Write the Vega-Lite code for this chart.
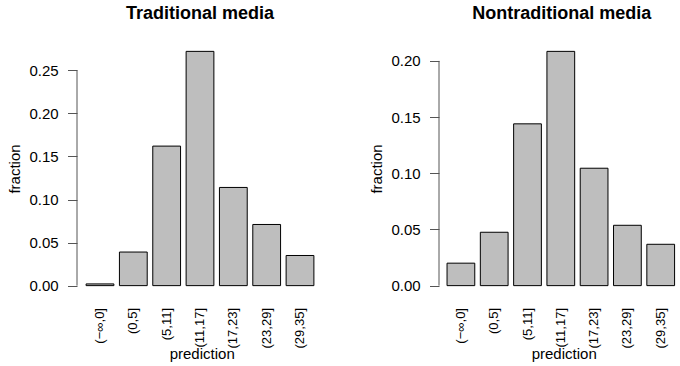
{
  "$schema": "https://vega.github.io/schema/vega-lite/v6.json",
  "autosize": {"type": "pad"},
  "padding": {"left": 7, "top": 4, "right": 0, "bottom": 0},
  "bounds": "flush",
  "spacing": 116,
  "background": "white",
  "config": {
    "font": "Liberation Sans",
    "view": {"stroke": null},
    "title": {"fontSize": 18, "fontWeight": "bold", "color": "#000", "baseline": "alphabetic", "offset": 19.2, "anchor": "middle"},
    "axis": {"labelColor": "#000", "titleColor": "#000", "grid": false, "labelFont": "Liberation Sans", "titleFont": "Liberation Sans", "titleFontWeight": "normal", "titleFontSize": 15}
  },
  "datasets": {
    "trad": [
      {"prediction": "(−∞,0]", "fraction": 0.002},
      {"prediction": "(0,5]", "fraction": 0.039},
      {"prediction": "(5,11]", "fraction": 0.162},
      {"prediction": "(11,17]", "fraction": 0.272},
      {"prediction": "(17,23]", "fraction": 0.114},
      {"prediction": "(23,29]", "fraction": 0.071},
      {"prediction": "(29,35]", "fraction": 0.035}
    ],
    "nontrad": [
      {"prediction": "(−∞,0]", "fraction": 0.020},
      {"prediction": "(0,5]", "fraction": 0.0475},
      {"prediction": "(5,11]", "fraction": 0.144},
      {"prediction": "(11,17]", "fraction": 0.2085},
      {"prediction": "(17,23]", "fraction": 0.1045},
      {"prediction": "(23,29]", "fraction": 0.0537},
      {"prediction": "(29,35]", "fraction": 0.0368}
    ]
  },
  "hconcat": [
    {
      "title": {"text": "Traditional media"},
      "width": 246,
      "height": 253,
      "layer": [
        {
          "data": {"name": "trad"},
          "mark": {"type": "bar", "fill": "#bebebe", "stroke": "#000", "strokeWidth": 1, "opacity": 1},
          "encoding": {
            "x": {
              "field": "prediction", "type": "nominal", "sort": null,
              "scale": {"paddingInner": 0.1667, "paddingOuter": 0.273},
              "axis": {"ticks": false, "domain": false, "labelAngle": -90, "labelFontSize": 13, "labelPadding": 12.5, "labelOverlap": false, "title": "prediction", "titleY": 63.3, "titleX": 124.7, "titleBaseline": "alphabetic"}
            },
            "y": {
              "field": "fraction", "type": "quantitative",
              "scale": {"domain": [-0.01088, 0.28288], "nice": false, "zero": false},
              "axis": {"values": [0, 0.05, 0.1, 0.15, 0.2, 0.25], "format": ".2f", "domain": false, "tickSize": 9.5, "tickColor": "#555", "labelPadding": 9.4, "labelFontSize": 15, "labelFlush": false, "title": "fraction", "titleX": -58, "titleBaseline": "alphabetic"}
            },
            "y2": {"datum": 0}
          }
        },
        {
          "data": {"values": [{"lo": 0, "hi": 0.25}]},
          "mark": {"type": "rule", "color": "#555", "strokeWidth": 1},
          "encoding": {
            "x": {"value": 0},
            "y": {"field": "lo", "type": "quantitative"},
            "y2": {"field": "hi"}
          }
        }
      ]
    },
    {
      "title": {"text": "Nontraditional media", "dx": 2.3},
      "width": 241,
      "height": 253,
      "layer": [
        {
          "data": {"name": "nontrad"},
          "mark": {"type": "bar", "fill": "#bebebe", "stroke": "#000", "strokeWidth": 1, "opacity": 1},
          "encoding": {
            "x": {
              "field": "prediction", "type": "nominal", "sort": null,
              "scale": {"paddingInner": 0.1667, "paddingOuter": 0.202, "align": 0.597},
              "axis": {"ticks": false, "domain": false, "labelAngle": -90, "labelFontSize": 13, "labelPadding": 12.5, "labelOverlap": false, "title": "prediction", "titleY": 63.3, "titleX": 124.7, "titleBaseline": "alphabetic"}
            },
            "y": {
              "field": "fraction", "type": "quantitative",
              "scale": {"domain": [-0.00834, 0.21684], "nice": false, "zero": false},
              "axis": {"values": [0, 0.05, 0.1, 0.15, 0.2], "format": ".2f", "domain": false, "tickSize": 9.5, "tickColor": "#555", "labelPadding": 9.4, "labelFontSize": 15, "labelFlush": false, "title": "fraction", "titleX": -58, "titleBaseline": "alphabetic"}
            },
            "y2": {"datum": 0}
          }
        },
        {
          "data": {"values": [{"lo": 0, "hi": 0.2}]},
          "mark": {"type": "rule", "color": "#555", "strokeWidth": 1},
          "encoding": {
            "x": {"value": 0},
            "y": {"field": "lo", "type": "quantitative"},
            "y2": {"field": "hi"}
          }
        }
      ]
    }
  ]
}
